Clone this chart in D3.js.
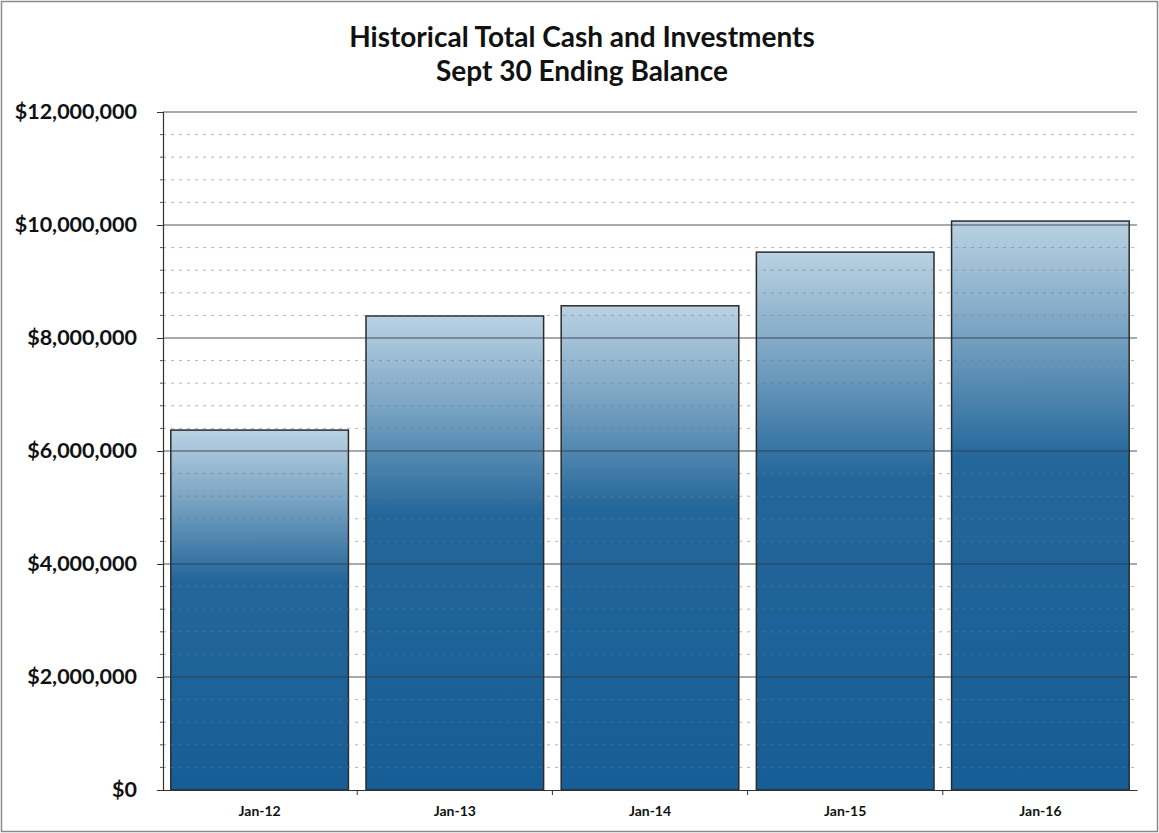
<!DOCTYPE html>
<html>
<head>
<meta charset="utf-8">
<script src="https://cdn.jsdelivr.net/npm/d3@7"></script>
<style>
  body { margin: 0; background: #fff; }
  svg { display: block; font-family: Lato, "Open Sans", sans-serif; }
</style>
</head>
<body>
<div id="chart"></div>
<script>
const categories = ["Jan-12", "Jan-13", "Jan-14", "Jan-15", "Jan-16"];
const balances = [6370000, 8390000, 8570000, 9520000, 10070000];
const titleLines = ["Historical Total Cash and Investments", "Sept 30 Ending Balance"];
const yTicks = [0, 2000000, 4000000, 6000000, 8000000, 10000000, 12000000];

const W = 1159, H = 833;
const margin = {top: 112, right: 22, bottom: 43, left: 163};
const width = W - margin.left - margin.right;
const height = H - margin.top - margin.bottom;

const svg = d3.select("#chart").append("svg")
  .attr("width", W)
  .attr("height", H);

// outer frame
svg.append("rect")
  .attr("x", 1.5).attr("y", 1.5)
  .attr("width", W - 3).attr("height", H - 3)
  .attr("fill", "none").attr("stroke", "#8a8a8a").attr("stroke-width", 1.5);

const grad = svg.append("defs").append("linearGradient")
  .attr("id", "barGrad")
  .attr("x1", 0).attr("y1", 0).attr("x2", 0).attr("y2", 1);
grad.append("stop").attr("offset", "0%").attr("stop-color", "#bad2e3");
grad.append("stop").attr("offset", "18%").attr("stop-color", "#7ea7c5");
grad.append("stop").attr("offset", "42%").attr("stop-color", "#23669a");
grad.append("stop").attr("offset", "100%").attr("stop-color", "#175e96");

svg.selectAll("text.title")
  .data(titleLines)
  .enter().append("text")
  .attr("class", "title")
  .attr("x", 582)
  .attr("y", (d, i) => 47 + i * 34)
  .attr("text-anchor", "middle")
  .attr("font-size", 28)
  .attr("font-weight", "bold")
  .attr("fill", "#111")
  .text(d => d);

const g = svg.append("g")
  .attr("transform", `translate(${margin.left},${margin.top})`);

const x = d3.scaleBand()
  .domain(categories)
  .range([0, width])
  .paddingInner(0.09)
  .paddingOuter(0.04);

const y = d3.scaleLinear()
  .domain([0, 12000000])
  .range([height, 0]);

// bars
g.selectAll("rect.bar")
  .data(categories)
  .enter().append("rect")
  .attr("class", "bar")
  .attr("x", d => x(d))
  .attr("y", (d, i) => y(balances[i]))
  .attr("width", x.bandwidth())
  .attr("height", (d, i) => height - y(balances[i]))
  .attr("fill", "url(#barGrad)")
  .attr("stroke", "#2b2b2b")
  .attr("stroke-width", 1.5);

// minor gridlines (dotted) drawn over the bars
const minor = d3.range(0, 12000001, 400000).filter(v => v % 2000000 !== 0);
g.selectAll("line.minor")
  .data(minor)
  .enter().append("line")
  .attr("class", "minor")
  .attr("x1", 0).attr("x2", width)
  .attr("y1", d => y(d)).attr("y2", d => y(d))
  .attr("stroke", "#6d7a86")
  .attr("stroke-opacity", 0.55)
  .attr("stroke-width", 1)
  .attr("stroke-dasharray", "3,5");

// major gridlines
g.selectAll("line.major")
  .data(yTicks.filter(v => v > 0))
  .enter().append("line")
  .attr("class", "major")
  .attr("x1", 0).attr("x2", width)
  .attr("y1", d => y(d)).attr("y2", d => y(d))
  .attr("stroke", "#2f3a44")
  .attr("stroke-opacity", 0.85)
  .attr("stroke-width", 1.2);

// y axis
const yAxis = g.append("g")
  .call(d3.axisLeft(y)
    .tickValues(yTicks)
    .tickSize(6)
    .tickPadding(20)
    .tickFormat(d => "$" + d3.format(",")(d)));
yAxis.select(".domain").attr("stroke", "#333").attr("stroke-width", 1.2);
yAxis.selectAll(".tick line").attr("stroke", "#333");
yAxis.selectAll("text")
  .attr("font-size", 21.5)
  .attr("font-weight", "bold")
  .attr("fill", "#111")
  .attr("font-family", "Lato, 'Open Sans', sans-serif");

// minor ticks on y axis
g.selectAll("line.minortick")
  .data(minor)
  .enter().append("line")
  .attr("x1", -3).attr("x2", 0)
  .attr("y1", d => y(d)).attr("y2", d => y(d))
  .attr("stroke", "#555");

// x axis
const xAxis = g.append("g")
  .attr("transform", `translate(0,${height})`)
  .call(d3.axisBottom(x).tickSize(0).tickPadding(16));
xAxis.select(".domain").attr("stroke", "#333").attr("stroke-width", 1.2);
xAxis.selectAll("text")
  .attr("font-size", 14)
  .attr("font-weight", "bold")
  .attr("fill", "#111")
  .attr("font-family", "Lato, 'Open Sans', sans-serif");

// category separator ticks
g.selectAll("line.sep")
  .data(categories.slice(1))
  .enter().append("line")
  .attr("x1", d => x(d) - x.step() * x.paddingInner() / 2)
  .attr("x2", d => x(d) - x.step() * x.paddingInner() / 2)
  .attr("y1", height).attr("y2", height + 5)
  .attr("stroke", "#333");
</script>
</body>
</html>
